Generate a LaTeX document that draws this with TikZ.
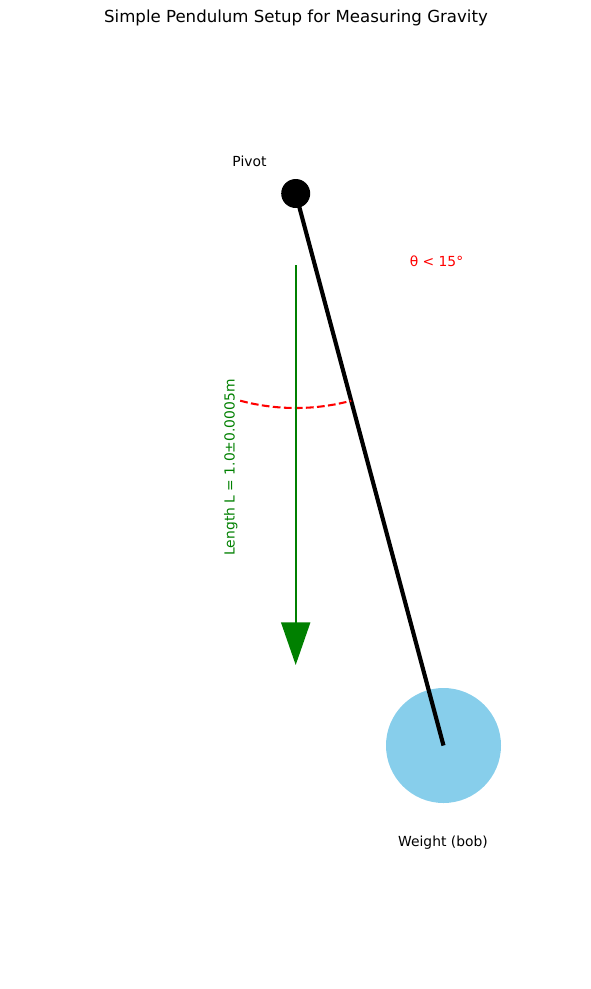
\documentclass[tikz,border=0pt]{standalone}
\usepackage{fontspec}
\setmainfont{DejaVu Sans}
\usetikzlibrary{arrows.meta}
\definecolor{bobblue}{HTML}{87CEEB}
\definecolor{lengthgreen}{HTML}{008000}

\begin{document}
\begin{tikzpicture}[x=0.75pt,y=0.75pt,
    label text/.style={font=\fontsize{10.4}{12}\selectfont,inner sep=0pt}]
    \useasboundingbox (0,0) rectangle (591,-989);
    \node [font=\fontsize{12.45}{15}\selectfont,inner sep=0pt] (title) at (296,-18) {Simple Pendulum Setup for Measuring Gravity};
    \node [circle,fill=bobblue,minimum size=86.25pt,inner sep=0pt] (bob) at (443.5,-745.5) {};
    \node [circle,fill=black,minimum size=21.75pt,inner sep=0pt] (pivot) at (295.7,-193.5) {};
    \draw [line width=3.1pt] (pivot.center) -- (bob.center);
    \draw [red,line width=1.55pt,dash pattern=on 5.8pt off 2.5pt] (pivot.center) ++(255:214.5) arc (255:285:214.5);
    \coordinate (lengthtop) at (295.7,-265);
    \coordinate (lengthtip) at (295.7,-665);
    \draw [lengthgreen,line width=1.56pt,-{Triangle[length=32pt,width=21.75pt]}] (lengthtop) -- (lengthtip);
    \node [label text] (pivotlabel) at (249.5,-161.5) {Pivot};
    \node [label text,red] (anglelabel) at (436.5,-261.5) {θ < 15°};
    \node [label text] (boblabel) at (443,-843) {Weight (bob)};
    \node [label text,lengthgreen,rotate=90] (lengthlabel) at (230.7,-467.5) {Length L = 1.0±0.0005m};
\end{tikzpicture}
\end{document}
